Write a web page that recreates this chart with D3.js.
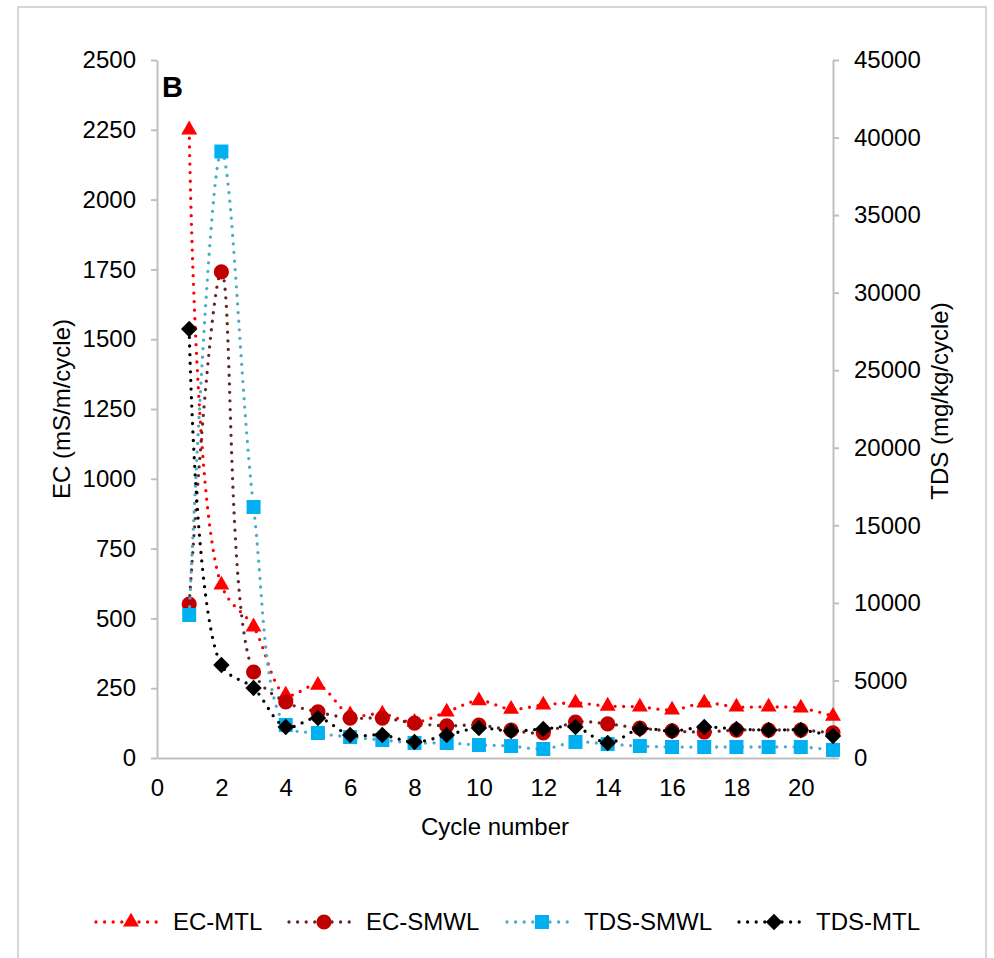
<!DOCTYPE html>
<html>
<head>
<meta charset="utf-8">
<script src="https://cdn.jsdelivr.net/npm/d3@7"></script>
<style>
    body { margin: 0; background: #fff; }
    text { font-family: "Liberation Sans", Arial, sans-serif; fill: #000; }
</style>
</head>
<body>
<div class="charts-div"></div>
<script>
// Values
const cycles = [1, 2, 3, 4, 5, 6, 7, 8, 9, 10, 11, 12, 13, 14, 15, 16, 17, 18, 19, 20, 21];
const ecMtl = [2250, 620, 470, 226, 261, 155, 158, 128, 165, 205, 175, 190, 197, 186, 183, 172, 197, 183, 183, 179, 150];
const ecSmwl = [551, 1741, 308, 201, 165, 143, 143, 125, 115, 118, 100, 90, 129, 122, 107, 97, 93, 100, 100, 100, 90];
const tdsSmwl = [9220, 39100, 16180, 2130, 1610, 1350, 1160, 970, 970, 840, 770, 580, 1030, 900, 770, 710, 710, 710, 710, 710, 520];
const tdsMtl = [27660, 6000, 4510, 2000, 2580, 1480, 1480, 1030, 1480, 1930, 1740, 1870, 2000, 970, 1870, 1740, 2000, 1870, 1800, 1800, 1420];

const ecTicks = [0, 250, 500, 750, 1000, 1250, 1500, 1750, 2000, 2250, 2500];
const tdsTicks = [0, 5000, 10000, 15000, 20000, 25000, 30000, 35000, 40000, 45000];
const xTicks = [0, 2, 4, 6, 8, 10, 12, 14, 16, 18, 20];

const width = 994;
const height = 958;
const margins = { top: 60, right: 161, bottom: 200, left: 157 };
const axisColor = "#bfbfbf";
const fontSize = 24;

const svg = d3.select(".charts-div").append("svg")
    .attr("width", width)
    .attr("height", height)
    .attr("viewBox", [0, 0, width, height]);

// Outer chart border
svg.append("rect")
    .attr("x", 18).attr("y", 7)
    .attr("width", 968).attr("height", 980)
    .attr("fill", "none")
    .attr("stroke", "#c8c8c8")
    .attr("stroke-width", 1.5);

const xScale = d3.scaleLinear().domain([0, 21]).range([margins.left, width - margins.right]);
const yEc = d3.scaleLinear().domain([0, 2500]).range([height - margins.bottom, margins.top]);
const yTds = d3.scaleLinear().domain([0, 45000]).range([height - margins.bottom, margins.top]);

const styleAxis = (g) => {
    g.select(".domain").attr("stroke", axisColor).attr("stroke-width", 2);
    g.selectAll(".tick line").attr("stroke", axisColor).attr("stroke-width", 2);
    g.selectAll(".tick text").attr("font-size", fontSize).attr("font-family", null).attr("fill", "#000");
    g.attr("font-family", null);
};

const plain = d3.format("d");

// X axis
svg.append("g")
    .attr("transform", `translate(0,${yEc(0)})`)
    .call(d3.axisBottom(xScale).tickValues(xTicks).tickFormat(plain).tickSize(0).tickPadding(21).tickSizeOuter(0))
    .call(styleAxis);

// Left axis (EC)
svg.append("g")
    .attr("transform", `translate(${margins.left},0)`)
    .call(d3.axisLeft(yEc).tickValues(ecTicks).tickFormat(plain).tickSize(6).tickPadding(15).tickSizeOuter(0))
    .call(styleAxis);

// Right axis (TDS)
svg.append("g")
    .attr("transform", `translate(${width - margins.right},0)`)
    .call(d3.axisRight(yTds).tickValues(tdsTicks).tickFormat(plain).tickSize(6).tickPadding(15).tickSizeOuter(0))
    .call(styleAxis);

// Axis titles
svg.append("text")
    .attr("transform", `translate(70,${(yEc(0) + yEc(2500)) / 2}) rotate(-90)`)
    .attr("text-anchor", "middle")
    .attr("font-size", fontSize)
    .text("EC (mS/m/cycle)");

svg.append("text")
    .attr("transform", `translate(948,${(yEc(0) + yEc(2500)) / 2 - 8}) rotate(-90)`)
    .attr("text-anchor", "middle")
    .attr("font-size", fontSize)
    .text("TDS (mg/kg/cycle)");

svg.append("text")
    .attr("x", (xScale(0) + xScale(21)) / 2)
    .attr("y", 835)
    .attr("text-anchor", "middle")
    .attr("font-size", fontSize)
    .text("Cycle number");

svg.append("text")
    .attr("x", 162).attr("y", 97)
    .attr("font-size", 29)
    .attr("font-weight", "bold")
    .text("B");

// Series definitions
const series = [
    { name: "EC-MTL", values: ecMtl, scale: yEc, line: "#ff0000", fill: "#ff0000", shape: "triangle" },
    { name: "EC-SMWL", values: ecSmwl, scale: yEc, line: "#632523", fill: "#c00000", shape: "circle" },
    { name: "TDS-SMWL", values: tdsSmwl, scale: yTds, line: "#4bacc6", fill: "#00b0f0", shape: "square" },
    { name: "TDS-MTL", values: tdsMtl, scale: yTds, line: "#000000", fill: "#000000", shape: "diamond" }
];

const symbolPath = (shape) => {
    switch (shape) {
        case "triangle":
            return d3.symbol(d3.symbolTriangle, 110)();
        case "circle":
            return d3.symbol(d3.symbolCircle, 180)();
        case "square":
            return d3.symbol(d3.symbolSquare, 196)();
        case "diamond":
            return d3.symbol(d3.symbolSquare, 135)();
    }
};

const drawMarker = (g, s, x, y) => {
    g.append("path")
        .attr("d", symbolPath(s.shape))
        .attr("fill", s.fill)
        .attr("transform", `translate(${x},${y})` + (s.shape === "diamond" ? " rotate(45)" : ""));
};

const dotted = (sel, color) => sel
    .attr("fill", "none")
    .attr("stroke", color)
    .attr("stroke-width", 3.3)
    .attr("stroke-linecap", "round")
    .attr("stroke-dasharray", "0 8.6");

series.forEach((s) => {
    const g = svg.append("g").attr("class", "visualPlotting");
    // smoothed line like the spreadsheet one
    const line = d3.line()
        .x((d, i) => xScale(cycles[i]))
        .y((d) => s.scale(d))
        .curve(d3.curveCatmullRom.alpha(0.5));

    g.append("path").attr("d", line(s.values)).call(dotted, s.line);

    s.values.forEach((v, i) => drawMarker(g, s, xScale(cycles[i]), s.scale(v)));
});

// Legend
const legendStarts = [96, 289, 507, 739];
const legendY = 922;
series.forEach((s, i) => {
    const g = svg.append("g").attr("class", "legend");
    const x0 = legendStarts[i];
    g.append("path").attr("d", `M${x0},${legendY}H${x0 + 63}`).call(dotted, s.line);
    drawMarker(g, s, x0 + 35, legendY);
    g.append("text")
        .attr("x", x0 + 77)
        .attr("y", legendY)
        .attr("dy", "0.35em")
        .attr("font-size", fontSize)
        .text(s.name);
});
</script>
</body>
</html>
